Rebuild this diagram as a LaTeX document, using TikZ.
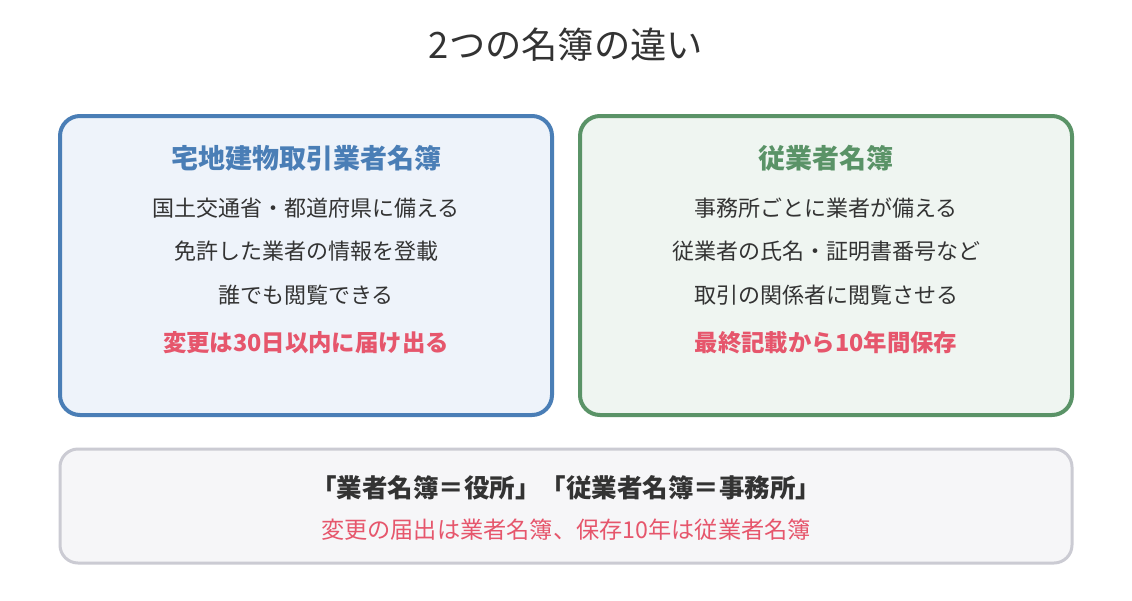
\documentclass[tikz,border=0pt]{standalone}
\usepackage{fontspec}
\setmainfont{Noto Sans CJK JP}
\newfontfamily\jp{Noto Sans CJK JP}
\definecolor{bluebd}{HTML}{4A7EB6}
\definecolor{bluefill}{HTML}{EEF3FA}
\definecolor{greenbd}{HTML}{5A9367}
\definecolor{greenfill}{HTML}{EFF5F1}
\definecolor{graybd}{HTML}{CBCBD3}
\definecolor{grayfill}{HTML}{F6F6F8}
\definecolor{txt}{HTML}{333333}
\definecolor{redtxt}{HTML}{E6566C}
\tikzset{
  panel/.style={rounded corners=20pt, line width=4pt},
  boxtitle/.style={font=\jp\bfseries\fontsize{27}{31}\selectfont, anchor=center},
  bodyline/.style={font=\jp\fontsize{22}{26}\selectfont, text=txt, anchor=center},
  redline/.style={font=\jp\bfseries\fontsize{23.4}{27}\selectfont, text=redtxt, anchor=center},
}
\begin{document}
\begin{tikzpicture}[x=1pt,y=-1pt]
\useasboundingbox (0,0) rectangle (1132,600);
\fill[white] (0,0) rectangle (1132,600);
\node[font=\jp\fontsize{36.3}{41}\selectfont, text=txt] (title) at (566,45) {2つの名簿の違い};

\draw[panel, draw=bluebd, fill=bluefill] (60,116) rectangle (552,415);
\draw[panel, draw=greenbd, fill=greenfill] (580,116) rectangle (1072,415);
\draw[rounded corners=18pt, line width=3pt, draw=graybd, fill=grayfill] (60,449) rectangle (1072,563);

\node[boxtitle, text=bluebd] (lt) at (306,158) {宅地建物取引業者名簿};
\node[bodyline] (l1) at (306,208) {国土交通省・都道府県に備える};
\node[bodyline] (l2) at (306,251) {免許した業者の情報を登載};
\node[bodyline] (l3) at (306,295) {誰でも閲覧できる};
\node[redline] (l4) at (306,343) {変更は30日以内に届け出る};

\node[boxtitle, text=greenbd] (rt) at (826,158) {従業者名簿};
\node[bodyline] (r1) at (826,208) {事務所ごとに業者が備える};
\node[bodyline] (r2) at (826,251) {従業者の氏名・証明書番号など};
\node[bodyline] (r3) at (826,295) {取引の関係者に閲覧させる};
\node[redline] (r4) at (826,343) {最終記載から10年間保存};

\node[font=\jp\bfseries\fontsize{25.5}{30}\selectfont, text=txt] (b1) at (566,488) {「業者名簿＝役所」「従業者名簿＝事務所」};
\node[font=\jp\fontsize{23.2}{27}\selectfont, text=redtxt] (b2) at (566,530) {変更の届出は業者名簿、保存10年は従業者名簿};
\end{tikzpicture}
\end{document}
